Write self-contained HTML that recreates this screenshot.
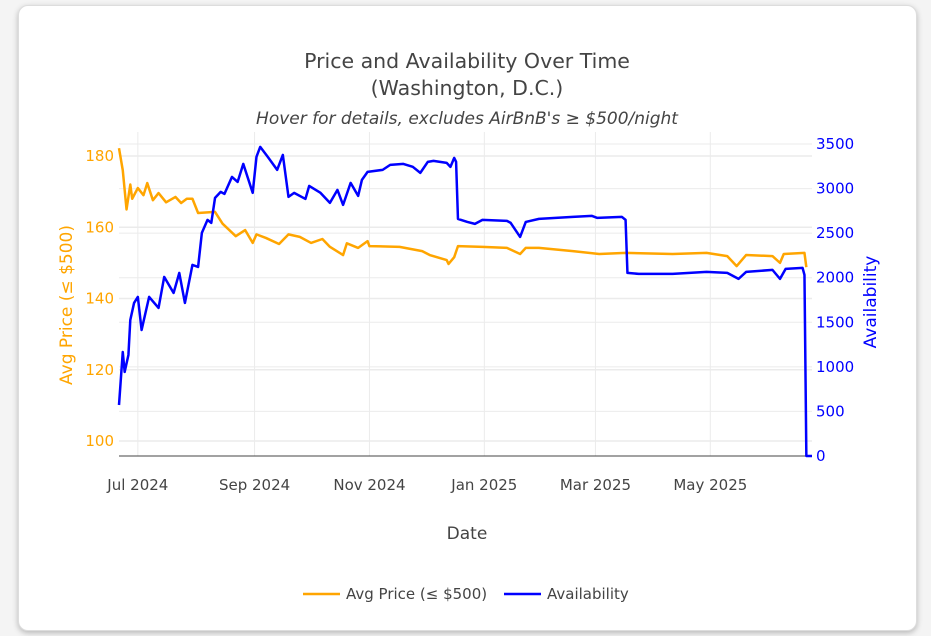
<!DOCTYPE html>
<html><head><meta charset="utf-8"><style>
body{margin:0;background:#f4f4f4;width:931px;height:636px;overflow:hidden;font-family:"DejaVu Sans",sans-serif}
#card{position:absolute;left:18px;top:5px;width:897px;height:624px;background:#fff;border:1px solid #ddd;border-radius:10px;box-shadow:0 2px 6px rgba(0,0,0,.25)}
</style></head><body>
<div id="card"></div>
<svg id="chart" width="931" height="636" style="position:absolute;left:0;top:0" font-family="DejaVu Sans, sans-serif">
<text x="467" y="68" text-anchor="middle" font-size="20.5" fill="#444">Price and Availability Over Time</text>
<text x="467" y="95" text-anchor="middle" font-size="20.5" fill="#444">(Washington, D.C.)</text>
<text x="467" y="124" text-anchor="middle" font-size="17" font-style="italic" fill="#444">Hover for details, excludes AirBnB's ≥ $500/night</text>
<g id="grid"></g><g id="axes"></g><g id="series"></g>
<text x="467" y="539" text-anchor="middle" font-size="17" fill="#444">Date</text>
<text transform="translate(72,305) rotate(-90)" text-anchor="middle" font-size="17" fill="#ffa500">Avg Price (≤ $500)</text>
<text transform="translate(876,302) rotate(-90)" text-anchor="middle" font-size="17" fill="#0000ff">Availability</text>
<g><line x1="303" y1="594" x2="340" y2="594" stroke="#ffa500" stroke-width="2.5"/><text x="346" y="599" font-size="15" fill="#444">Avg Price (≤ $500)</text></g>
<g><line x1="504" y1="594" x2="541" y2="594" stroke="#0000ff" stroke-width="2.5"/><text x="547" y="599" font-size="15" fill="#444">Availability</text></g>
</svg>
<script>
const xTickLabels=["Jul 2024","Sep 2024","Nov 2024","Jan 2025","Mar 2025","May 2025"];
const xTickDays=[10,72,133,194,253,314];
const leftTicks=[100,120,140,160,180];
const rightTicks=[0,500,1000,1500,2000,2500,3000,3500];
const priceDays=[0,2,4,6,7,10,13,15,18,21,25,30,33,36,39,42,51,55,62,67,71,73,78,85,90,96,102,108,112,119,121,127,132,133,149,161,165,174,175,178,180,193,206,213,216,223,241,255,269,294,312,323,328,333,347,351,353,364,365];
const priceVals=[182.2,176,165,172,168,171,169,172.4,167.6,169.6,167,168.5,166.8,168,168,164,164.3,161,157.5,159.2,155.6,158,157,155.3,158,157.3,155.6,156.7,154.5,152.2,155.5,154.2,156.1,154.7,154.5,153.3,152.2,150.8,149.7,151.6,154.7,154.5,154.2,152.5,154.2,154.2,153.3,152.5,152.8,152.5,152.8,151.9,149.1,152.2,151.9,150,152.5,152.8,148.8];
const availDays=[0,2,3,5,6,8,10,12,16,21,24,29,32,35,39,42,44,47,49,51,54,56,60,63,66,71,73,75,79,84,87,90,93,99,101,107,112,116,119,123,127,129,132,140,144,151,156,160,164,167,174,176,178,179,180,185,189,193,206,208,213,216,223,241,251,254,267,269,270,276,294,312,323,329,333,347,351,354,363,364,365,368];
const availVals=[572,1167,943,1133,1526,1717,1785,1414,1785,1661,2009,1829,2054,1717,2144,2121,2503,2649,2615,2896,2963,2940,3131,3075,3277,2952,3356,3468,3356,3210,3378,2907,2952,2884,3030,2952,2840,2985,2817,3064,2918,3098,3187,3210,3266,3277,3244,3176,3300,3311,3288,3244,3344,3300,2660,2626,2604,2649,2638,2615,2458,2626,2660,2683,2694,2671,2683,2649,2054,2043,2043,2065,2054,1987,2065,2088,1987,2099,2110,2031,0,0];
const NS="http://www.w3.org/2000/svg";
const X0=119,X1=812,D0=0,D1=368;
const xs=d=>X0+(d-D0)/(D1-D0)*(X1-X0);
const yL=v=>441-(v-100)*3.5625;
const yR=v=>456-v*0.08914;
function mk(tag,attrs,parent){const e=document.createElementNS(NS,tag);for(const k in attrs)e.setAttribute(k,attrs[k]);parent.appendChild(e);return e;}
const grid=document.getElementById('grid'),axes=document.getElementById('axes'),series=document.getElementById('series');
xTickDays.forEach((d,i)=>{
  const l=mk('line',{x1:xs(d),x2:xs(d),y1:132,y2:456,stroke:'#ebebeb','stroke-width':1},grid);
  
  
  const t=mk('text',{x:xs(d),y:490,'text-anchor':'middle','font-size':15,fill:'#444'},axes);
  t.textContent=xTickLabels[i];
  
  
});
leftTicks.forEach(v=>{
  const l=mk('line',{x1:X0,x2:X1,y1:yL(v),y2:yL(v),stroke:'#ebebeb','stroke-width':1.5},grid);
  
  
  const t=mk('text',{x:114,y:yL(v)+5,'text-anchor':'end','font-size':15,fill:'#ffa500'},axes);
  t.textContent=v;
  
  
});
rightTicks.forEach(v=>{
  if(v>0){const l=mk('line',{x1:X0,x2:X1,y1:yR(v),y2:yR(v),stroke:'#ebebeb','stroke-width':1},grid);
  
  }
  const t=mk('text',{x:816,y:yR(v)+5,'font-size':15,fill:'#0000ff'},axes);
  t.textContent=v;
  
  
});
const ax=mk('line',{x1:X0,x2:X1,y1:456,y2:456,stroke:'#444','stroke-width':1},axes);


const pp=mk('polyline',{points:priceDays.map((d,i)=>xs(d)+','+yL(priceVals[i])).join(' '),fill:'none',stroke:'#ffa500','stroke-width':2.5,'stroke-linejoin':'round'},series);


const ap=mk('polyline',{points:availDays.map((d,i)=>xs(d)+','+yR(availVals[i])).join(' '),fill:'none',stroke:'#0000ff','stroke-width':2.5,'stroke-linejoin':'round'},series);


</script>
</body></html>
